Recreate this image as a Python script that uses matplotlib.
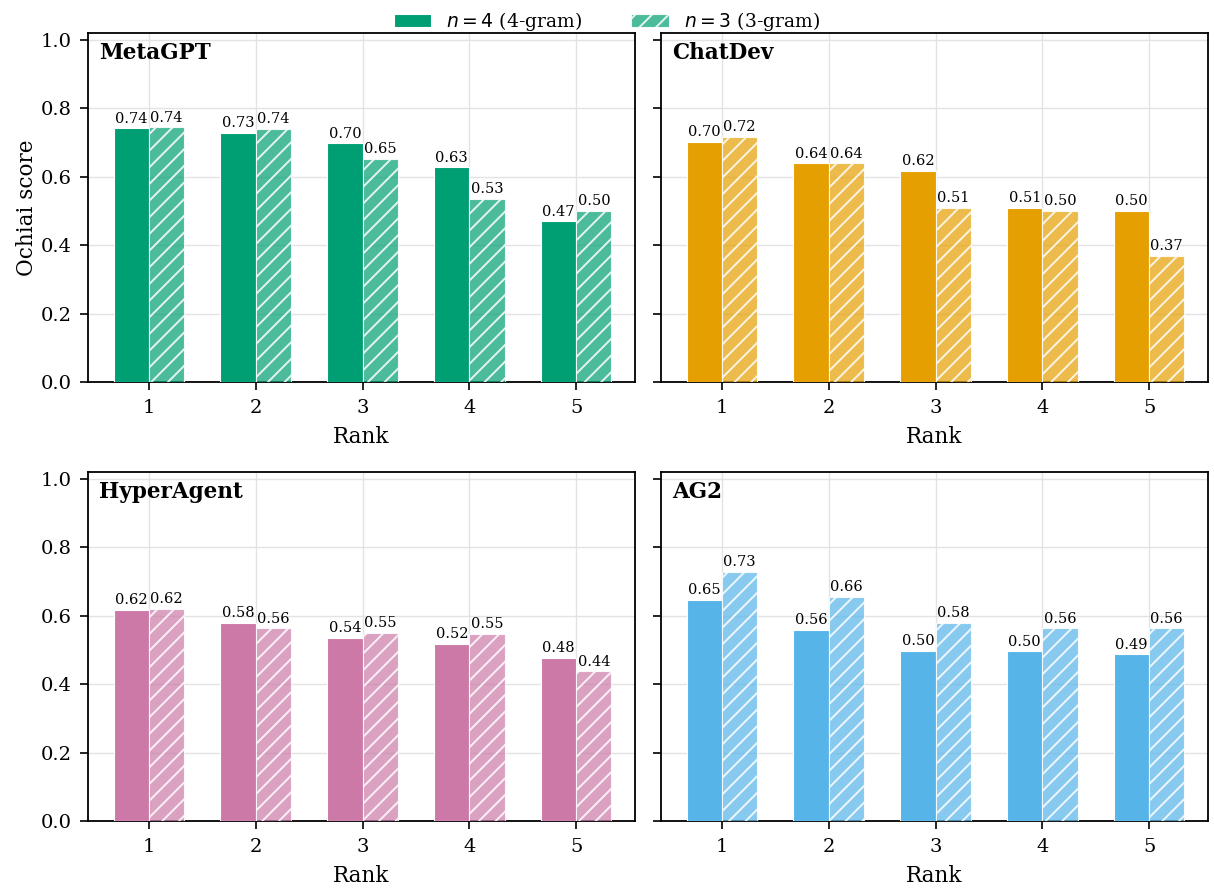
import matplotlib
matplotlib.use("Agg")
import matplotlib.pyplot as plt
import numpy as np
from matplotlib.colors import to_rgba

# Ochiai scores by rank, per framework
ranks = [1, 2, 3, 4, 5]
frameworks = ["MetaGPT", "ChatDev", "HyperAgent", "AG2"]
colors = ["#009E73", "#E69F00", "#CC79A7", "#56B4E9"]

metagpt_4 = [0.741, 0.728, 0.697, 0.627, 0.469]
metagpt_3 = [0.744, 0.739, 0.651, 0.534, 0.499]
chatdev_4 = [0.701, 0.639, 0.617, 0.508, 0.499]
chatdev_3 = [0.717, 0.639, 0.509, 0.499, 0.369]
hyper_4 = [0.617, 0.580, 0.536, 0.517, 0.477]
hyper_3 = [0.619, 0.563, 0.550, 0.546, 0.437]
ag2_4 = [0.646, 0.559, 0.498, 0.496, 0.487]
ag2_3 = [0.727, 0.655, 0.580, 0.563, 0.563]

scores_4 = [metagpt_4, chatdev_4, hyper_4, ag2_4]
scores_3 = [metagpt_3, chatdev_3, hyper_3, ag2_3]

plt.rcParams["font.family"] = "DejaVu Serif"
plt.rcParams["hatch.linewidth"] = 1.4

WIDTH = 0.33


def main():
    fig, axes = plt.subplots(2, 2, figsize=(12.14, 8.9), dpi=100, sharey=True)
    fig.subplots_adjust(left=0.0725, right=0.995, top=0.963, bottom=0.0775,
                        wspace=0.0475, hspace=0.258)
    x = np.array(ranks)

    for i, ax in enumerate(axes.flat):
        c = colors[i]
        b4 = ax.bar(x - WIDTH / 2, scores_4[i], WIDTH, color=c,
                    edgecolor="white", linewidth=0.8, zorder=3,
                    label="$n=4$ (4-gram)")
        b3 = ax.bar(x + WIDTH / 2, scores_3[i], WIDTH,
                    facecolor=to_rgba(c, 0.7), edgecolor=to_rgba("white", 0.85),
                    linewidth=0.8, hatch="//", zorder=3,
                    label="$n=3$ (3-gram)")
        for bars in (b4, b3):
            for r in bars:
                h = r.get_height()
                ax.annotate(f"{h:.2f}", (r.get_x() + r.get_width() / 2, h),
                            xytext=(0, 2), textcoords="offset points",
                            ha="center", va="bottom", fontsize=10.5, zorder=4)

        ax.text(0.02, 0.975, frameworks[i], transform=ax.transAxes,
                fontsize=15.5, fontweight="bold", ha="left", va="top")
        ax.set_ylim(0, 1.02)
        ax.set_xlim(0.43, 5.55)
        ax.set_xticks(ranks)
        ax.set_yticks([0, 0.2, 0.4, 0.6, 0.8, 1.0])
        ax.grid(True, color="#e3e3e3", linewidth=1.0, zorder=0)
        ax.set_axisbelow(True)
        ax.tick_params(labelsize=14, length=6, width=1.2, direction="out",
                       pad=6)
        for s in ax.spines.values():
            s.set_linewidth(1.3)
        ax.set_xlabel("Rank", fontsize=15.5, labelpad=7)

    axes[0, 0].set_ylabel("Ochiai score", fontsize=15.5, labelpad=2)

    handles, labels = axes[0, 0].get_legend_handles_labels()
    fig.legend(handles, labels, loc="upper center", bbox_to_anchor=(0.5, 1.008),
               ncol=2, frameon=False, fontsize=13.5, columnspacing=2.6)

    fig.savefig("out.png", dpi=100)


if __name__ == '__main__':
    main()
